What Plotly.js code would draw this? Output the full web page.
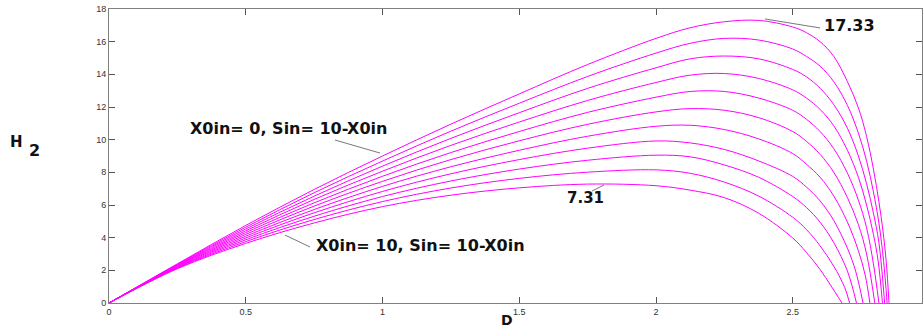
<!DOCTYPE html>
<html>
<head>
<meta charset="utf-8">
<script src="https://cdn.plot.ly/plotly-3.0.1.min.js"></script>
<style>
  html, body { margin: 0; padding: 0; background: #ffffff; }
  #chart { width: 923px; height: 331px; }
</style>
</head>
<body>
<div id="chart"></div>
<script>
/* H2 vs dilution rate D — one magenta curve per inlet biomass X0in (0..10),
   with Sin = 10 - X0in. MATLAB-style boxed axes. */
(function () {
  "use strict";

  // Inlet biomass for each curve, top curve (X0in = 0) first.
  var X0IN = [0, 1, 2, 3, 4, 5, 6, 7, 8, 9, 10];

  // Rising part and peak of every curve, sampled at the same D values.
  var D_RISE = [0, 0.25, 0.5, 0.75, 1.0, 1.25, 1.5, 1.75, 2.0, 2.125, 2.25, 2.375, 2.5];
  var H2_RISE = [
    [0, 2.40, 4.75, 6.95, 9.00, 10.95, 12.80, 14.60, 16.20, 16.85, 17.22, 17.30, 16.90],
    [0, 2.37, 4.64, 6.75, 8.69, 10.52, 12.23, 13.87, 15.30, 15.90, 16.20, 16.10, 15.55],
    [0, 2.34, 4.53, 6.54, 8.38, 10.08, 11.65, 13.14, 14.40, 14.95, 15.12, 14.95, 14.30],
    [0, 2.31, 4.42, 6.34, 8.07, 9.65, 11.08, 12.40, 13.50, 13.95, 14.05, 13.75, 13.05],
    [0, 2.28, 4.31, 6.13, 7.76, 9.21, 10.50, 11.67, 12.60, 12.95, 12.95, 12.55, 11.80],
    [0, 2.25, 4.20, 5.93, 7.45, 8.78, 9.93, 10.94, 11.70, 11.90, 11.80, 11.35, 10.50],
    [0, 2.22, 4.09, 5.72, 7.14, 8.34, 9.35, 10.21, 10.82, 10.88, 10.62, 10.05, 9.15],
    [0, 2.19, 3.98, 5.52, 6.83, 7.91, 8.78, 9.48, 9.92, 9.80, 9.40, 8.70, 7.75],
    [0, 2.16, 3.87, 5.31, 6.52, 7.47, 8.20, 8.74, 9.05, 8.95, 8.45, 7.70, 6.52],
    [0, 2.13, 3.76, 5.11, 6.21, 7.04, 7.63, 8.01, 8.15, 7.94, 7.40, 6.55, 5.25],
    [0, 2.10, 3.65, 4.90, 5.90, 6.60, 7.05, 7.28, 7.18, 6.91, 6.45, 5.50, 3.98]
  ];

  // Washout part of every curve (each curve reaches zero at its own D).
  var D_TAIL = [
    [2.55, 2.6, 2.65, 2.7, 2.74, 2.77, 2.795, 2.815, 2.83, 2.842, 2.852],
    [2.55, 2.6, 2.65, 2.7, 2.74, 2.77, 2.795, 2.815, 2.832, 2.845],
    [2.55, 2.6, 2.65, 2.7, 2.74, 2.77, 2.795, 2.815, 2.836],
    [2.55, 2.6, 2.65, 2.7, 2.74, 2.77, 2.795, 2.812, 2.828],
    [2.55, 2.6, 2.65, 2.7, 2.74, 2.77, 2.795, 2.815],
    [2.55, 2.6, 2.65, 2.7, 2.74, 2.77, 2.8],
    [2.55, 2.6, 2.65, 2.7, 2.74, 2.765, 2.782],
    [2.55, 2.6, 2.65, 2.7, 2.73, 2.757],
    [2.55, 2.6, 2.65, 2.7, 2.733],
    [2.55, 2.6, 2.65, 2.69, 2.708],
    [2.55, 2.6, 2.64, 2.68]
  ];
  var H2_TAIL = [
    [16.55, 16.0, 15.1, 13.55, 11.95, 10.2, 8.2, 6.2, 4.4, 2.5, 0],
    [15.1, 14.5, 13.55, 12.1, 10.4, 8.7, 6.8, 4.9, 2.6, 0],
    [13.85, 13.15, 12.15, 10.7, 9.0, 7.3, 5.5, 3.7, 0],
    [12.55, 11.85, 10.85, 9.35, 7.7, 6.0, 4.2, 2.6, 0],
    [11.25, 10.5, 9.45, 7.95, 6.3, 4.6, 2.4, 0],
    [9.9, 9.1, 8.0, 6.45, 4.8, 3.0, 0],
    [8.5, 7.7, 6.55, 4.95, 3.2, 1.7, 0],
    [7.1, 6.25, 5.05, 3.35, 1.95, 0],
    [5.85, 4.95, 3.7, 1.95, 0],
    [4.5, 3.5, 2.25, 0.95, 0],
    [3.1, 2.05, 1.05, 0]
  ];

  var X_TICKS = [0, 0.5, 1, 1.5, 2, 2.5];
  var Y_TICKS = [0, 2, 4, 6, 8, 10, 12, 14, 16, 18];

  var MAGENTA = "#ff00ff";
  var FRAME = "#808080";
  var LABEL_FONT = "DejaVu Sans, Arial, sans-serif";
  var TICK_FONT = { family: "Liberation Sans, Arial, sans-serif", size: 9, color: "#333333" };

  var traces = X0IN.map(function (x0, i) {
    return {
      type: "scatter",
      mode: "lines",
      name: "X0in= " + x0,
      x: D_RISE.concat(D_TAIL[i]),
      y: H2_RISE[i].concat(H2_TAIL[i]),
      line: { color: MAGENTA, width: 1, shape: "spline", smoothing: 1 },
      hoverinfo: "skip",
      showlegend: false
    };
  });

  // Bold text labels inside the axes.
  function label(text, x, y, size) {
    return {
      xref: "x", yref: "y", x: x, y: y,
      text: "<b>" + text + "</b>",
      showarrow: false, xanchor: "left", yanchor: "middle",
      font: { family: LABEL_FONT, size: size, color: "#111111" }
    };
  }
  // Axis titles drawn as annotations so "H 2" stays upright like the original.
  function paperLabel(text, x, y, size) {
    return {
      xref: "paper", yref: "paper", x: x, y: y,
      text: "<b>" + text + "</b>",
      showarrow: false, xanchor: "center", yanchor: "middle",
      borderpad: 0,
      font: { family: LABEL_FONT, size: size, color: "#111111" }
    };
  }
  // Thin grey leader line from a label to its curve.
  function leader(x0, y0, x1, y1) {
    return {
      type: "line", xref: "x", yref: "y",
      x0: x0, y0: y0, x1: x1, y1: y1,
      line: { color: "#555555", width: 0.8 }
    };
  }

  var axisCommon = {
    showline: true,
    linecolor: FRAME,
    linewidth: 1,
    mirror: "ticks",
    ticks: "inside",
    ticklen: 6,
    tickcolor: "#555555",
    tickfont: TICK_FONT,
    showgrid: false,
    zeroline: false,
    fixedrange: true
  };

  var layout = {
    width: 923,
    height: 331,
    autosize: false,
    paper_bgcolor: "#ffffff",
    plot_bgcolor: "#ffffff",
    margin: { l: 109, r: 1, t: 9, b: 28 },
    showlegend: false,
    xaxis: Object.assign({}, axisCommon, {
      range: [0, 2.9726],
      tickmode: "array",
      tickvals: X_TICKS,
      ticktext: X_TICKS.map(String)
    }),
    yaxis: Object.assign({}, axisCommon, {
      range: [0, 18],
      tickmode: "array",
      tickvals: Y_TICKS,
      ticktext: Y_TICKS.map(String)
    }),
    annotations: [
      label("X0in= 0, Sin= 10-X0in", 0.289, 10.71, 16),
      label("X0in= 10, Sin= 10-X0in", 0.7495, 3.55, 16),
      label("7.31", 1.667, 6.43, 15),
      label("17.33", 2.607, 17.02, 16),
      paperLabel("H", -0.1138, 0.546, 15),
      paperLabel("2", -0.0916, 0.520, 16),
      paperLabel("D", 0.4895, -0.0578, 14)
    ],
    shapes: [
      leader(0.826, 9.98, 0.991, 9.18),
      leader(0.6435, 4.16, 0.7349, 3.43),
      leader(1.766, 6.857, 1.810, 7.224),
      leader(2.3985, 17.39, 2.600, 16.84)
    ]
  };

  Plotly.newPlot("chart", traces, layout, { displayModeBar: false, staticPlot: true });
})();
</script>
</body>
</html>
